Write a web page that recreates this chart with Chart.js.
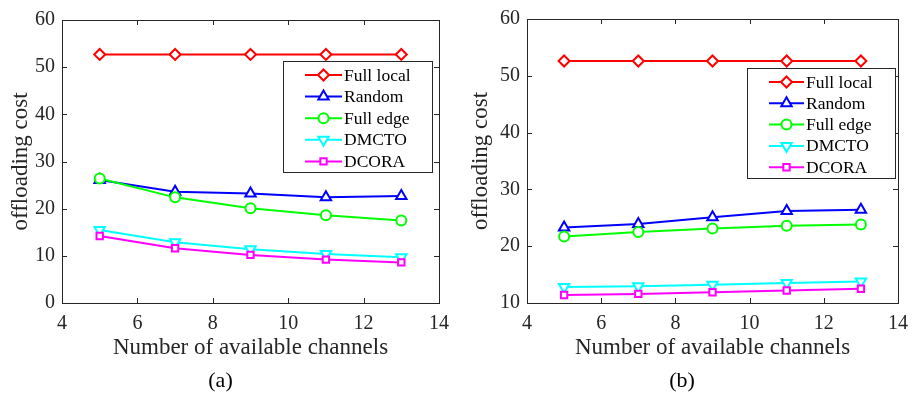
<!DOCTYPE html>
<html>
<head>
<meta charset="utf-8">
<script src="https://cdn.jsdelivr.net/npm/chart.js@4.4.0/dist/chart.umd.min.js"></script>
<style>
html, body { margin: 0; padding: 0; background: #fff; }
#wrap { position: relative; width: 917px; height: 394px; }
.panel { position: absolute; top: 0; height: 394px; }
#panelA { left: 0; width: 458px; }
#panelB { left: 460px; width: 457px; }
</style>
</head>
<body>
<div id="wrap">
  <div class="panel" id="panelA"><canvas id="chartA"></canvas></div>
  <div class="panel" id="panelB"><canvas id="chartB"></canvas></div>
</div>
<script>
const channels = [5, 7, 9, 11, 13];
const seriesNames = ['Full local', 'Random', 'Full edge', 'DMCTO', 'DCORA'];

// panel (a)
const fullLocalA = [52.7, 52.7, 52.7, 52.7, 52.7];
const randomA = [26.1, 23.6, 23.2, 22.4, 22.7];
const fullEdgeA = [26.4, 22.4, 20.1, 18.6, 17.5];
const dmctoA = [15.5, 12.9, 11.4, 10.4, 9.7];
const dcoraA = [14.2, 11.6, 10.2, 9.2, 8.6];

// panel (b)
const fullLocalB = [52.6, 52.6, 52.6, 52.6, 52.6];
const randomB = [23.3, 23.9, 25.1, 26.2, 26.4];
const fullEdgeB = [21.7, 22.5, 23.1, 23.6, 23.8];
const dmctoB = [12.8, 12.95, 13.2, 13.5, 13.8];
const dcoraB = [11.4, 11.6, 11.9, 12.2, 12.5];

const xTicks = [4, 6, 8, 10, 12, 14];
const yTicksA = [0, 10, 20, 30, 40, 50, 60];
const yTicksB = [10, 20, 30, 40, 50, 60];

const seriesColors = ['#ff0000', '#0000ff', '#00ff00', '#00ffff', '#ff00ff'];
const seriesMarkers = ['rectRot', 'triangle', 'circle', 'triangle', 'rect'];
const markerRotation = [0, 0, 0, 180, 0];
const markerRadius = [5.5, 6, 5, 6, 4.5];

const FONT = "'Liberation Serif', 'Times New Roman', serif";
const AXIS_COLOR = '#262626';

function buildDatasets(seriesList) {
    return seriesList.map((values, i) => ({
        label: seriesNames[i],
        data: values.map((v, k) => ({ x: channels[k], y: v })),
        borderColor: seriesColors[i],
        backgroundColor: '#ffffff',
        borderWidth: 2,
        pointStyle: seriesMarkers[i],
        pointRotation: markerRotation[i],
        pointRadius: markerRadius[i],
        pointBorderWidth: 2,
        pointBorderColor: seriesColors[i],
        pointBackgroundColor: '#ffffff',
        tension: 0,
        order: seriesList.length - i
    }));
}

// box around plot area + inward ticks on every side
const matlabAxes = {
    id: 'matlabAxes',
    afterDatasetsDraw(chart) {
        const { ctx, chartArea: a, scales } = chart;
        ctx.save();
        ctx.strokeStyle = AXIS_COLOR;
        ctx.lineWidth = 1;
        ctx.strokeRect(a.left + 0.5, a.top + 0.5, a.right - a.left, a.bottom - a.top);
        const len = 5;
        ctx.beginPath();
        scales.x.ticks.forEach(t => {
            const px = Math.round(scales.x.getPixelForValue(t.value)) + 0.5;
            ctx.moveTo(px, a.bottom); ctx.lineTo(px, a.bottom - len);
            ctx.moveTo(px, a.top); ctx.lineTo(px, a.top + len);
        });
        scales.y.ticks.forEach(t => {
            const py = Math.round(scales.y.getPixelForValue(t.value)) + 0.5;
            ctx.moveTo(a.left, py); ctx.lineTo(a.left + len, py);
            ctx.moveTo(a.right, py); ctx.lineTo(a.right - len, py);
        });
        ctx.stroke();
        ctx.restore();
    }
};

// MATLAB style legend box with line + marker samples
const boxLegend = {
    id: 'boxLegend',
    afterDraw(chart, args, opts) {
        const { ctx, chartArea: a } = chart;
        const x0 = a.left + opts.left, y0 = a.top + opts.top;
        ctx.save();
        ctx.fillStyle = '#ffffff';
        ctx.fillRect(x0, y0, opts.width, opts.height);
        ctx.strokeStyle = AXIS_COLOR;
        ctx.lineWidth = 1;
        ctx.strokeRect(x0 + 0.5, y0 + 0.5, opts.width, opts.height);
        ctx.font = '17.5px ' + FONT;
        ctx.textBaseline = 'middle';
        chart.data.datasets.forEach((ds, i) => {
            const y = y0 + opts.firstRow + i * opts.rowStep;
            ctx.strokeStyle = ds.borderColor;
            ctx.lineWidth = 2;
            ctx.beginPath();
            ctx.moveTo(x0 + opts.lineStart, y);
            ctx.lineTo(x0 + opts.lineEnd, y);
            ctx.stroke();
            ctx.fillStyle = '#ffffff';
            ctx.lineWidth = 2;
            Chart.helpers.drawPoint(ctx, {
                pointStyle: ds.pointStyle,
                rotation: ds.pointRotation,
                radius: ds.pointRadius,
                borderWidth: 2
            }, (x0 + opts.lineStart + x0 + opts.lineEnd) / 2, y);
            ctx.fillStyle = '#000000';
            ctx.fillText(ds.label, x0 + opts.textStart, y + 1);
        });
        ctx.restore();
    }
};

function createPanel(canvasId, seriesList, yTicks, caption, pad, yWidth, legendPos) {
    return new Chart(document.getElementById(canvasId), {
        type: 'line',
        data: { datasets: buildDatasets(seriesList) },
        options: {
            responsive: true,
            maintainAspectRatio: false,
            animation: false,
            layout: { padding: pad },
            scales: {
                x: {
                    type: 'linear',
                    min: xTicks[0],
                    max: xTicks[xTicks.length - 1],
                    afterBuildTicks: s => { s.ticks = xTicks.map(v => ({ value: v })); },
                    afterFit: s => { s.height = 62.6; },
                    grid: { display: false, drawTicks: false },
                    border: { display: false },
                    ticks: { color: AXIS_COLOR, font: { family: FONT, size: 20 }, padding: 9, maxRotation: 0 },
                    title: {
                        display: true,
                        text: 'Number of available channels',
                        color: AXIS_COLOR,
                        font: { family: FONT, size: 23 },
                        padding: { top: 0, bottom: 4 }
                    }
                },
                y: {
                    min: yTicks[0],
                    max: yTicks[yTicks.length - 1],
                    afterBuildTicks: s => { s.ticks = yTicks.map(v => ({ value: v })); },
                    afterFit: s => { s.width = yWidth; },
                    grid: { display: false, drawTicks: false },
                    border: { display: false },
                    ticks: { color: AXIS_COLOR, font: { family: FONT, size: 20 }, padding: 7 },
                    title: {
                        display: true,
                        text: 'offloading cost',
                        color: AXIS_COLOR,
                        font: { family: FONT, size: 23 },
                        padding: { top: 7, bottom: 0 }
                    }
                }
            },
            plugins: {
                legend: { display: false },
                tooltip: { enabled: false },
                title: {
                    display: true,
                    position: 'bottom',
                    text: caption,
                    color: '#000000',
                    font: { family: FONT, size: 22, weight: 'normal' },
                    padding: { top: 2, bottom: 0 }
                },
                boxLegend: legendPos
            }
        },
        plugins: [matlabAxes, boxLegend]
    });
}

createPanel('chartA', [fullLocalA, randomA, fullEdgeA, dmctoA, dcoraA], yTicksA, '(a)',
    { top: 20, right: 17, left: 0, bottom: 0 }, 62,
    { left: 221, top: 41, width: 149, height: 111, firstRow: 14, rowStep: 21.6, lineStart: 22, lineEnd: 59, textStart: 61 });

createPanel('chartB', [fullLocalB, randomB, fullEdgeB, dmctoB, dcoraB], yTicksB, '(b)',
    { top: 19, right: 13, left: 0, bottom: 0 }, 67,
    { left: 220, top: 49, width: 148, height: 110, firstRow: 14, rowStep: 21.3, lineStart: 22, lineEnd: 57, textStart: 59 });
</script>
</body>
</html>
